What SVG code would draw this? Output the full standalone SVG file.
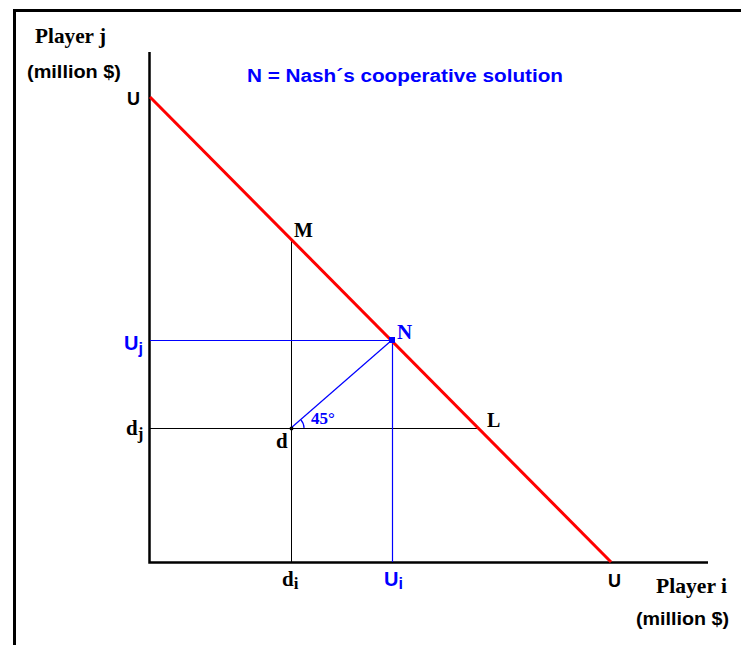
<svg xmlns="http://www.w3.org/2000/svg" width="741" height="645" viewBox="0 0 741 645">
<style>
.serif{font-family:"Liberation Serif","Times New Roman",serif;font-weight:bold;fill:#000}
.sans{font-family:"Liberation Sans",Arial,sans-serif;font-weight:bold;fill:#000}
.blue{fill:#0000ff}
.ax{stroke:#000;stroke-width:2.5;fill:none}
.blk{stroke:#000;stroke-width:1;fill:none}
.bl{stroke:#0000ff;stroke-width:1.2;fill:none}
.red{stroke:#ff0000;stroke-width:3;fill:none}
</style>
<rect width="741" height="645" fill="#fff"/>
<g id="frame">
<line x1="14.5" y1="10.5" x2="741" y2="10.5" stroke="#000" stroke-width="3"/>
<line x1="14.5" y1="9" x2="14.5" y2="645" stroke="#000" stroke-width="3"/>
</g>
<g id="connectors">
<polyline class="ax" points="149.5,52 149.5,562.5 708,562.5"/>
<line class="blk" x1="291.5" y1="240" x2="291.5" y2="562"/>
<line class="blk" x1="150" y1="428.5" x2="478" y2="428.5"/>
<line class="bl" x1="150" y1="340.5" x2="392" y2="340.5"/>
<line class="bl" x1="392.5" y1="340" x2="392.5" y2="562"/>
<line class="bl" x1="291" y1="428" x2="392" y2="340"/>
<path class="bl" d="M301,420 A12,12 0 0 1 304,428" stroke-width="1.5"/>
<line class="red" x1="150" y1="97" x2="611" y2="562"/>
</g>
<g id="node-d">
<circle cx="291.5" cy="428.5" r="2" fill="#000"/>
<text class="serif" x="276" y="448" font-size="21">d</text>
</g>
<g id="node-N">
<rect x="389" y="337" width="6" height="6" fill="#0000ff"/>
<text class="serif blue" x="397" y="339" font-size="21">N</text>
</g>
<g id="node-M"><text class="serif" x="294" y="237" font-size="20">M</text></g>
<g id="node-L"><text class="serif" x="487" y="427" font-size="20">L</text></g>
<g id="labels">
<text class="serif" x="35" y="43" font-size="21" textLength="71" lengthAdjust="spacingAndGlyphs">Player j</text>
<text class="sans" x="27" y="78" font-size="18" textLength="94" lengthAdjust="spacingAndGlyphs">(million $)</text>
<text class="sans" x="127" y="105" font-size="19" textLength="13" lengthAdjust="spacingAndGlyphs">U</text>
<text class="sans blue" x="124" y="350" font-size="20">U<tspan font-size="16" dy="4">j</tspan></text>
<text class="serif" x="126" y="435" font-size="21">d<tspan font-size="17" dy="4">j</tspan></text>
<text class="serif" x="282" y="586" font-size="21">d<tspan font-size="17" dy="3">i</tspan></text>
<text class="sans blue" x="384" y="586" font-size="20">U<tspan font-size="16" dy="3">i</tspan></text>
<text class="sans" x="608" y="587" font-size="19" textLength="13" lengthAdjust="spacingAndGlyphs">U</text>
<text class="serif" x="656" y="593" font-size="21" textLength="71" lengthAdjust="spacingAndGlyphs">Player i</text>
<text class="sans" x="636" y="625" font-size="18" textLength="93" lengthAdjust="spacingAndGlyphs">(million $)</text>
<text class="serif blue" x="311" y="424" font-size="17">45°</text>
<text class="sans blue" x="247" y="82" font-size="18" textLength="316" lengthAdjust="spacingAndGlyphs">N = Nash´s cooperative solution</text>
</g>
</svg>
